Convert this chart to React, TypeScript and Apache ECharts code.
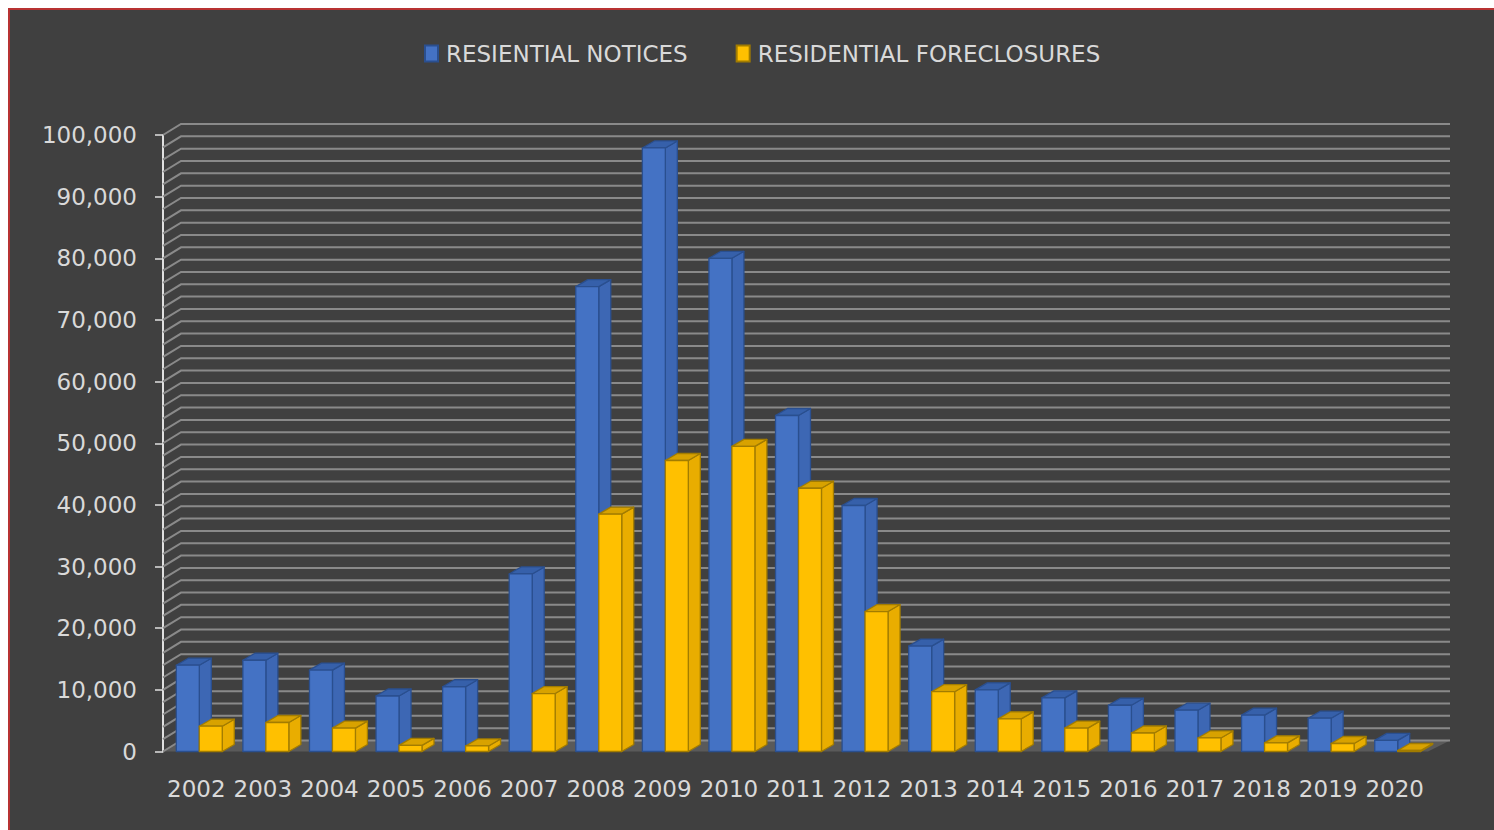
import React, { useEffect, useRef } from "react";
import * as echarts from "echarts";

// Years on the category axis
const years = [
  "2002", "2003", "2004", "2005", "2006", "2007", "2008", "2009", "2010", "2011",
  "2012", "2013", "2014", "2015", "2016", "2017", "2018", "2019", "2020",
];

// Residential notices per year
const notices = [
  14000, 14800, 13200, 9000, 10500, 28800, 75400, 97900, 80000, 54500,
  39900, 17100, 10000, 8700, 7500, 6700, 5900, 5400, 1800,
];

// Residential foreclosures per year
const foreclosures = [
  4100, 4700, 3800, 1000, 900, 9400, 38500, 47200, 49500, 42700,
  22700, 9700, 5300, 3800, 3000, 2200, 1400, 1300, 100,
];

// Value axis settings
const yMax = 100000;
const yMajorStep = 10000;
const yMinorStep = 2000;

const FONT = "DejaVu Sans";
const TEXT = "#d9d9d9";

// 3D look: bar depth and wall depth in pixels
const BAR_DX = 12;
const BAR_DY = 7;
const WALL_DX = 18;
const WALL_DY = 11;

const BLUE = { front: "#4472c4", side: "#3d67b4", top: "#3660aa", stroke: "#2a4f8f" };
const GOLD = { front: "#ffc000", side: "#e9ad00", top: "#d8a200", stroke: "#a27c00" };

function barRenderer(offsetFrac: number, widthFrac: number, pal: typeof BLUE) {
  return (params: any, api: any) => {
    const idx = api.value(0);
    const val = api.value(1);
    const base = api.coord([idx, 0]);
    const topPt = api.coord([idx, val]);
    const bw = api.size([1, 0])[0];
    const x0 = base[0] + offsetFrac * bw;
    const x1 = x0 + widthFrac * bw;
    const y0 = base[1];
    const yt = Math.min(topPt[1], y0 - 1);
    const stroke = { stroke: pal.stroke, lineWidth: 1.3, lineJoin: "round" };
    return {
      type: "group",
      children: [
        {
          type: "polygon",
          shape: { points: [[x1, y0], [x1 + BAR_DX, y0 - BAR_DY], [x1 + BAR_DX, yt - BAR_DY], [x1, yt]] },
          style: { fill: pal.side, ...stroke },
        },
        {
          type: "polygon",
          shape: { points: [[x0, yt], [x0 + BAR_DX, yt - BAR_DY], [x1 + BAR_DX, yt - BAR_DY], [x1, yt]] },
          style: { fill: pal.top, ...stroke },
        },
        {
          type: "polygon",
          shape: { points: [[x0, y0], [x0, yt], [x1, yt], [x1, y0]] },
          style: { fill: pal.front, ...stroke },
        },
      ],
    };
  };
}

// Floor, side wall and back wall gridlines, placed through the value axis
function wallRenderer(params: any, api: any) {
  const cs = params.coordSys;
  const left = cs.x;
  const right = cs.x + cs.width;
  const y0 = api.coord([0, 0])[1];
  const children: any[] = [
    {
      type: "polygon",
      shape: {
        points: [
          [left, y0],
          [right, y0],
          [right + WALL_DX + 4, y0 - WALL_DY],
          [left + WALL_DX, y0 - WALL_DY],
        ],
      },
      style: { fill: "#5a5a5a" },
    },
  ];
  for (let v = 0; v <= yMax; v += yMinorStep) {
    const y = api.coord([0, v])[1];
    children.push({
      type: "polyline",
      shape: {
        points: [
          [left, y],
          [left + WALL_DX, y - WALL_DY],
          [right + WALL_DX + 4, y - WALL_DY],
        ],
      },
      style: { fill: null, stroke: "#8a8a8a", lineWidth: 2 },
    });
  }
  return { type: "group", children };
}

export default function App() {
  const ref = useRef<HTMLDivElement>(null);

  useEffect(() => {
    if (!ref.current) return;
    const chart = echarts.init(ref.current, undefined, { renderer: "svg" });
    chart.setOption({
      animation: false,
      backgroundColor: "#404040",
      textStyle: { fontFamily: FONT },
      graphic: [
        { type: "rect", left: 0, top: 0, shape: { width: 2, height: 822 }, style: { fill: "#b83232" } },
        { type: "rect", left: 0, top: 0, shape: { width: 1486, height: 2 }, style: { fill: "#b83232" } },
      ],
      legend: {
        data: ["RESIENTIAL NOTICES", "RESIDENTIAL FORECLOSURES"],
        left: 411,
        top: 29,
        icon: "rect",
        itemWidth: 13,
        itemHeight: 16,
        itemGap: 48,
        textStyle: { color: TEXT, fontSize: 23, fontFamily: FONT, padding: [0, 0, 0, 3] },
      },
      grid: { left: 155, top: 127, width: 1265, height: 616.5 },
      xAxis: {
        type: "category",
        data: years,
        axisLine: { show: false },
        axisTick: { show: false },
        axisLabel: { color: TEXT, fontSize: 23, fontFamily: FONT, margin: 26, interval: 0 },
      },
      yAxis: {
        type: "value",
        min: 0,
        max: yMax,
        interval: yMajorStep,
        splitLine: { show: false },
        axisLine: { show: true, lineStyle: { color: "#e0e0e0", width: 2 } },
        axisTick: { show: true, length: 8, lineStyle: { color: "#e0e0e0", width: 1.5 } },
        axisLabel: {
          color: TEXT,
          fontSize: 23,
          fontFamily: FONT,
          margin: 26,
          formatter: (v: number) => v.toLocaleString("en-US"),
        },
      },
      series: [
        {
          name: "walls",
          type: "custom",
          silent: true,
          z: 1,
          data: [[0, 0]],
          renderItem: wallRenderer,
        },
        {
          name: "RESIENTIAL NOTICES",
          type: "custom",
          z: 2,
          itemStyle: { color: BLUE.front, borderColor: BLUE.stroke, borderWidth: 1 },
          data: notices.map((v, i) => [i, v]),
          encode: { x: 0, y: 1 },
          renderItem: barRenderer(-0.3, 0.345, BLUE),
        },
        {
          name: "RESIDENTIAL FORECLOSURES",
          type: "custom",
          z: 3,
          itemStyle: { color: GOLD.front, borderColor: GOLD.stroke, borderWidth: 1 },
          data: foreclosures.map((v, i) => [i, v]),
          encode: { x: 0, y: 1 },
          renderItem: barRenderer(0.045, 0.345, GOLD),
        },
      ],
    });
    return () => chart.dispose();
  }, []);

  return (
    <div
      ref={ref}
      style={{ position: "fixed", left: 8, top: 8, width: 1486, height: 822 }}
    />
  );
}
